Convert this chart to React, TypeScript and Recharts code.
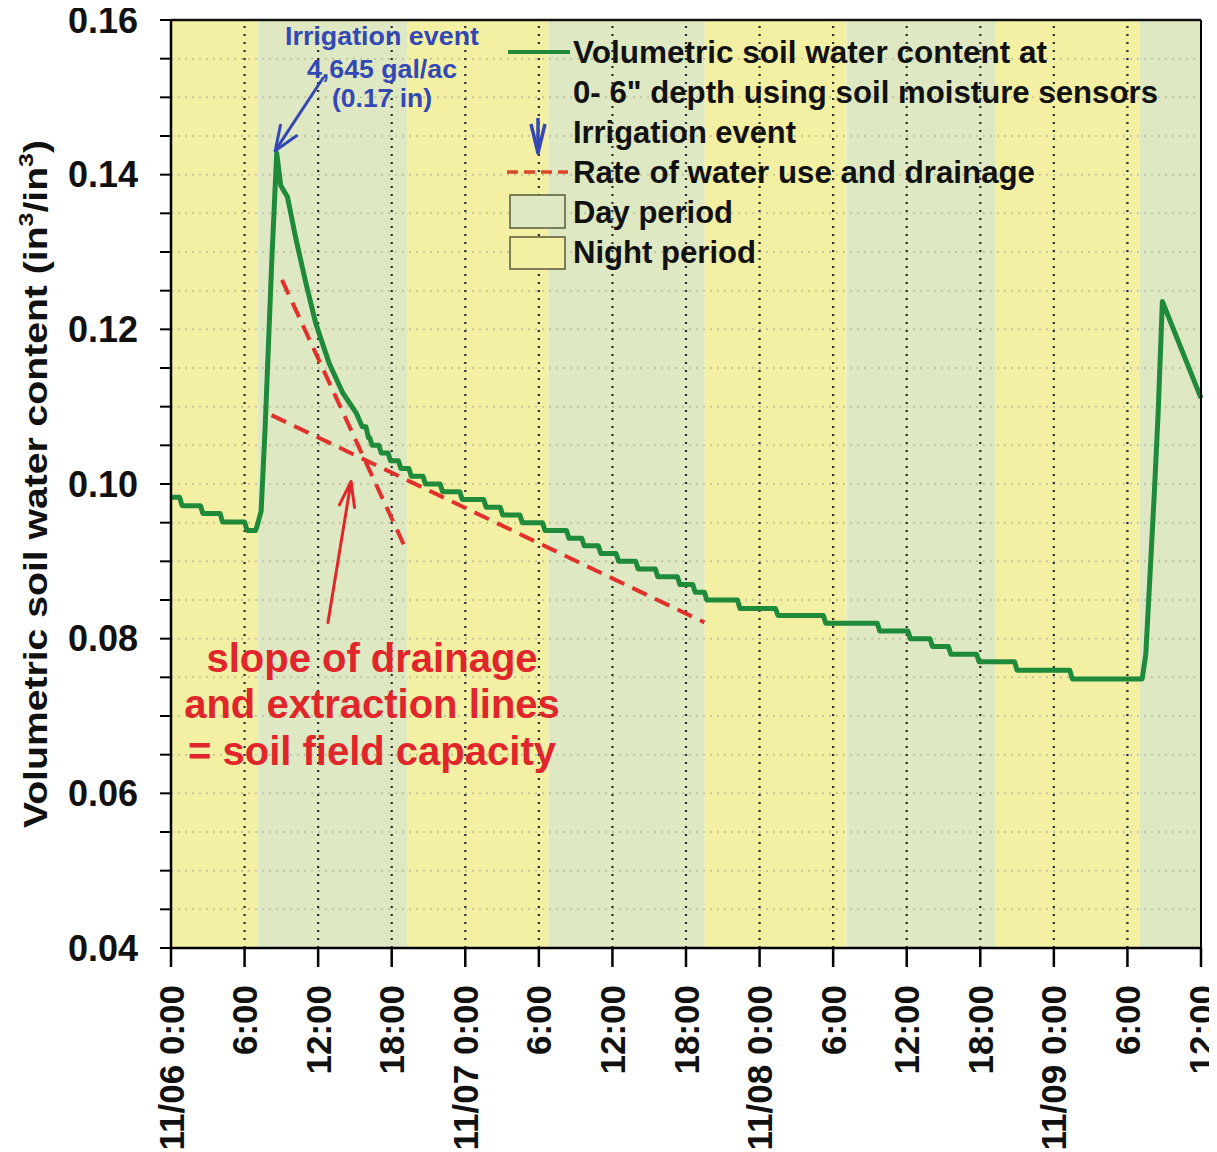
import React from 'react';
import { ComposedChart, Line, XAxis, YAxis, ReferenceArea, ReferenceLine } from 'recharts';

const FONT = "'Liberation Sans', Arial, Helvetica, sans-serif";
const W = 1217;
const H = 1152;

// Sensor series (hours since 11/06 0:00, volumetric water content)
const hours = [
  0, 0.7, 0.9, 2.4, 2.6, 4.0, 4.2, 6.0, 6.2, 6.9, 7.1, 7.35, 7.67, 8.21, 8.62, 8.95, 9.5, 10.2, 11.0, 11.8,
  12.9, 14.0, 15.1, 15.6, 15.9, 16.1, 16.2, 16.4, 16.95, 17.15, 17.7, 17.9, 18.55, 18.75, 19.4, 19.6, 20.55,
  20.75, 21.95, 22.15, 23.55, 23.75, 25.5, 25.7, 26.85, 27.05, 28.45, 28.65, 30.3, 30.5, 32.25, 32.45, 33.5,
  33.7, 34.85, 35.05, 36.3, 36.5, 37.9, 38.1, 39.5, 39.7, 41.3, 41.5, 42.55, 42.75, 43.5, 43.7, 46.2, 46.4,
  49.3, 49.5, 53.2, 53.4, 57.6, 57.8, 60.1, 60.3, 61.9, 62.1, 63.4, 63.6, 65.7, 65.9, 68.8, 69.0, 73.3, 73.5,
  79.2, 79.5, 79.8, 80.2, 80.5, 80.85, 84,
];
const vwc = [
  0.0983, 0.0983, 0.0972, 0.0972, 0.0962, 0.0962, 0.0951, 0.0951, 0.094, 0.094, 0.095, 0.0965, 0.107, 0.1285,
  0.1428, 0.1386, 0.1371, 0.1316, 0.126, 0.1208, 0.1156, 0.1118, 0.1092, 0.1074, 0.1074, 0.106, 0.106, 0.105,
  0.105, 0.104, 0.104, 0.103, 0.103, 0.102, 0.102, 0.101, 0.101, 0.1, 0.1, 0.099, 0.099, 0.098, 0.098, 0.097,
  0.097, 0.096, 0.096, 0.095, 0.095, 0.094, 0.094, 0.093, 0.093, 0.092, 0.092, 0.091, 0.091, 0.09, 0.09, 0.089,
  0.089, 0.088, 0.088, 0.087, 0.087, 0.086, 0.086, 0.085, 0.085, 0.0839, 0.0839, 0.083, 0.083, 0.082, 0.082,
  0.081, 0.081, 0.08, 0.08, 0.079, 0.079, 0.078, 0.078, 0.077, 0.077, 0.0759, 0.0759, 0.0748, 0.0748, 0.078,
  0.087, 0.099, 0.109, 0.1236, 0.1111,
];
const sensorData = hours.map((h, i) => ({ h, v: vwc[i] }));

// Rate lines (drainage and water use)
const drainageHours = [9.05, 19.0];
const drainageVwc = [0.1264, 0.0921];
const useHours = [8.2, 43.5];
const useVwc = [0.1089, 0.0821];
const drainageData = drainageHours.map((h, i) => ({ h, v: drainageVwc[i] }));
const useData = useHours.map((h, i) => ({ h, v: useVwc[i] }));

// Day / night periods (hours)
const dayStart = [7.1, 30.8, 55.1, 79.0];
const dayEnd = [19.3, 43.5, 67.2, 84];
const nightStart = [0, 19.3, 43.5, 67.2];
const nightEnd = [7.1, 30.8, 55.1, 79.0];

// Axes
const xTicks = [0, 6, 12, 18, 24, 30, 36, 42, 48, 54, 60, 66, 72, 78, 84];
const xTickLabels = [
  '11/06 0:00', '6:00', '12:00', '18:00', '11/07 0:00', '6:00', '12:00', '18:00',
  '11/08 0:00', '6:00', '12:00', '18:00', '11/09 0:00', '6:00', '12:00',
];
const yTicks = [
  0.04, 0.045, 0.05, 0.055, 0.06, 0.065, 0.07, 0.075, 0.08, 0.085, 0.09, 0.095, 0.1,
  0.105, 0.11, 0.115, 0.12, 0.125, 0.13, 0.135, 0.14, 0.145, 0.15, 0.155, 0.16,
];
const rightTicks = [0.04, 0.07, 0.1, 0.13, 0.16];

// Annotation arrows [tail, tip]
const irrigationArrow = [{ x: 12.4, y: 0.1525 }, { x: 8.5, y: 0.1431 }];
const slopeArrow = [{ x: 12.8, y: 0.0821 }, { x: 14.68, y: 0.1003 }];

const NIGHT = '#f3f0a3';
const DAY = '#dee9c3';
const GREEN = '#1e8a3a';
const RED = '#e2302c';
const BLUE = '#3448b5';

function arrowShape(color: string, sw: number, headLen: number, spread: number) {
  return (p: any) => {
    const x1 = Number(p.x1), y1 = Number(p.y1), x2 = Number(p.x2), y2 = Number(p.y2);
    const a = Math.atan2(y2 - y1, x2 - x1);
    const b1x = x2 - headLen * Math.cos(a - spread);
    const b1y = y2 - headLen * Math.sin(a - spread);
    const b2x = x2 - headLen * Math.cos(a + spread);
    const b2y = y2 - headLen * Math.sin(a + spread);
    return (
      <g>
        <line x1={x1} y1={y1} x2={x2} y2={y2} stroke={color} strokeWidth={sw} strokeLinecap="round" />
        <polyline
          points={`${b1x},${b1y} ${x2},${y2} ${b2x},${b2y}`}
          fill="none"
          stroke={color}
          strokeWidth={sw}
          strokeLinecap="round"
          strokeLinejoin="round"
        />
      </g>
    );
  };
}

const XTick = (props: any) => {
  const { x, y, payload } = props;
  const idx = xTicks.indexOf(payload.value);
  const label = idx >= 0 ? xTickLabels[idx] : '';
  return (
    <text
      transform={`translate(${x},${y}) rotate(-90)`}
      textAnchor="end"
      dy="0.36em"
      fontSize={35}
      fontWeight="bold"
      fontFamily={FONT}
      fill="#111"
    >
      {label}
    </text>
  );
};

const Overlay = () => {
  const t = { fontFamily: FONT, fontWeight: 'bold' as const, fill: '#111', fontSize: 31 };
  return (
    <svg
      width={W}
      height={H}
      style={{ position: 'absolute', left: 0, top: 0, pointerEvents: 'none' }}
    >
      {/* Y axis label */}
      <text
        transform="translate(35,484) rotate(-90)"
        textAnchor="middle"
        dy="0.36em"
        fontSize={33}
        fontWeight="bold"
        fontFamily={FONT}
        fill="#111"
        textLength={688}
        lengthAdjust="spacingAndGlyphs"
      >
        Volumetric soil water content (in
        <tspan fontSize={21} dy={-14}>3</tspan>
        <tspan dy={14}>/in</tspan>
        <tspan fontSize={21} dy={-14}>3</tspan>
        <tspan dy={14}>)</tspan>
      </text>

      {/* Irrigation annotation */}
      <g fontFamily={FONT} fontWeight="bold" fill={BLUE} fontSize={25} textAnchor="middle">
        <text x={382} y={45} textLength={194} lengthAdjust="spacingAndGlyphs">Irrigation event</text>
        <text x={382} y={78} textLength={150} lengthAdjust="spacingAndGlyphs">4,645 gal/ac</text>
        <text x={382} y={107} textLength={100} lengthAdjust="spacingAndGlyphs">(0.17 in)</text>
      </g>

      {/* Slope annotation */}
      <g fontFamily={FONT} fontWeight="bold" fill="#e0262b" fontSize={40} textAnchor="middle">
        <text x={372} y={672}>slope of drainage</text>
        <text x={372} y={718}>and extraction lines</text>
        <text x={372} y={765}>= soil field capacity</text>
      </g>

      {/* Legend */}
      <line x1={508} y1={52} x2={570} y2={52} stroke={GREEN} strokeWidth={4} />
      <text x={573} y={63} {...t} textLength={474} lengthAdjust="spacingAndGlyphs">Volumetric soil water content at</text>
      <text x={573} y={103} {...t} textLength={585} lengthAdjust="spacingAndGlyphs">0- 6" depth using soil moisture sensors</text>

      <line x1={538} y1={118} x2={538} y2={153} stroke={BLUE} strokeWidth={3.5} />
      <polyline points="531,124 538,153 545,124" fill="none" stroke={BLUE} strokeWidth={3.5} strokeLinejoin="round" />
      <text x={573} y={143} {...t} textLength={223} lengthAdjust="spacingAndGlyphs">Irrigation event</text>

      <line x1={507} y1={172} x2={568} y2={172} stroke="#d9482a" strokeWidth={3.5} strokeDasharray="11 6" />
      <text x={573} y={183} {...t} textLength={462} lengthAdjust="spacingAndGlyphs">Rate of water use and drainage</text>

      <rect x={510} y={195} width={55} height={33} fill={DAY} stroke="#5a5a3c" strokeWidth={1.5} />
      <text x={573} y={223} {...t} textLength={160} lengthAdjust="spacingAndGlyphs">Day period</text>
      <rect x={510} y={237} width={55} height={32} fill={NIGHT} stroke="#5a5a3c" strokeWidth={1.5} />
      <text x={573} y={263} {...t} textLength={183} lengthAdjust="spacingAndGlyphs">Night period</text>
    </svg>
  );
};

export default function App() {
  return (
    <div style={{ position: 'relative', left: -8, top: -8, width: W, height: H, background: '#fff' }}>
      <ComposedChart width={W} height={H} data={sensorData} margin={{ top: 20, right: 0, bottom: 0, left: 71 }}>
        <XAxis
          dataKey="h"
          type="number"
          domain={[0, 84]}
          ticks={xTicks}
          interval={0}
          height={204}
          tickSize={19}
          tickMargin={18}
          tick={<XTick />}
          tickLine={{ stroke: '#000', strokeWidth: 2.5 }}
          axisLine={{ stroke: '#000', strokeWidth: 2.5 }}
        />
        <YAxis
          type="number"
          domain={[0.04, 0.16]}
          ticks={yTicks}
          interval={0}
          width={100}
          tickSize={11}
          tickMargin={22}
          tickFormatter={(v: number) => (Math.round(v * 1000) % 20 === 0 ? v.toFixed(2) : '')}
          tick={{ fontSize: 36, fontWeight: 'bold', fill: '#111', fontFamily: FONT }}
          tickLine={{ stroke: '#000', strokeWidth: 2 }}
          axisLine={{ stroke: '#000', strokeWidth: 2.5 }}
        />
        <YAxis
          yAxisId="R"
          orientation="right"
          type="number"
          domain={[0.04, 0.16]}
          ticks={rightTicks}
          interval={0}
          width={16}
          tickSize={9}
          tickFormatter={() => ''}
          tickLine={{ stroke: '#000', strokeWidth: 2 }}
          axisLine={{ stroke: '#000', strokeWidth: 2 }}
        />

        {nightStart.map((s, i) => (
          <ReferenceArea key={`n${i}`} x1={s} x2={nightEnd[i]} y1={0.04} y2={0.16} fill={NIGHT} fillOpacity={1} stroke="none" ifOverflow="visible" />
        ))}
        {dayStart.map((s, i) => (
          <ReferenceArea key={`d${i}`} x1={s} x2={dayEnd[i]} y1={0.04} y2={0.16} fill={DAY} fillOpacity={1} stroke="none" ifOverflow="visible" />
        ))}

        {yTicks.slice(1, -1).map((v) => (
          <ReferenceLine key={`gy${v}`} y={v} stroke="#b9b99c" strokeWidth={1.5} strokeDasharray="2 5" />
        ))}
        {xTicks.slice(1, -1).map((v) => (
          <ReferenceLine key={`gx${v}`} x={v} stroke="#2a2a2a" strokeWidth={2.2} strokeDasharray="2 6" />
        ))}
        <ReferenceLine y={0.16} stroke="#111" strokeWidth={2.5} ifOverflow="visible" />

        <Line
          dataKey="v"
          type="linear"
          stroke={GREEN}
          strokeWidth={5}
          strokeLinejoin="round"
          dot={false}
          activeDot={false}
          isAnimationActive={false}
        />
        <Line data={drainageData} dataKey="v" type="linear" stroke={RED} strokeWidth={4} strokeDasharray="16 9" dot={false} activeDot={false} isAnimationActive={false} />
        <Line data={useData} dataKey="v" type="linear" stroke={RED} strokeWidth={4} strokeDasharray="16 9" dot={false} activeDot={false} isAnimationActive={false} />

        <ReferenceLine segment={irrigationArrow} ifOverflow="visible" shape={arrowShape(BLUE, 3, 26, 0.38)} />
        <ReferenceLine segment={slopeArrow} ifOverflow="visible" shape={arrowShape('#e0262b', 3, 26, 0.3)} />
      </ComposedChart>
      <Overlay />
    </div>
  );
}
